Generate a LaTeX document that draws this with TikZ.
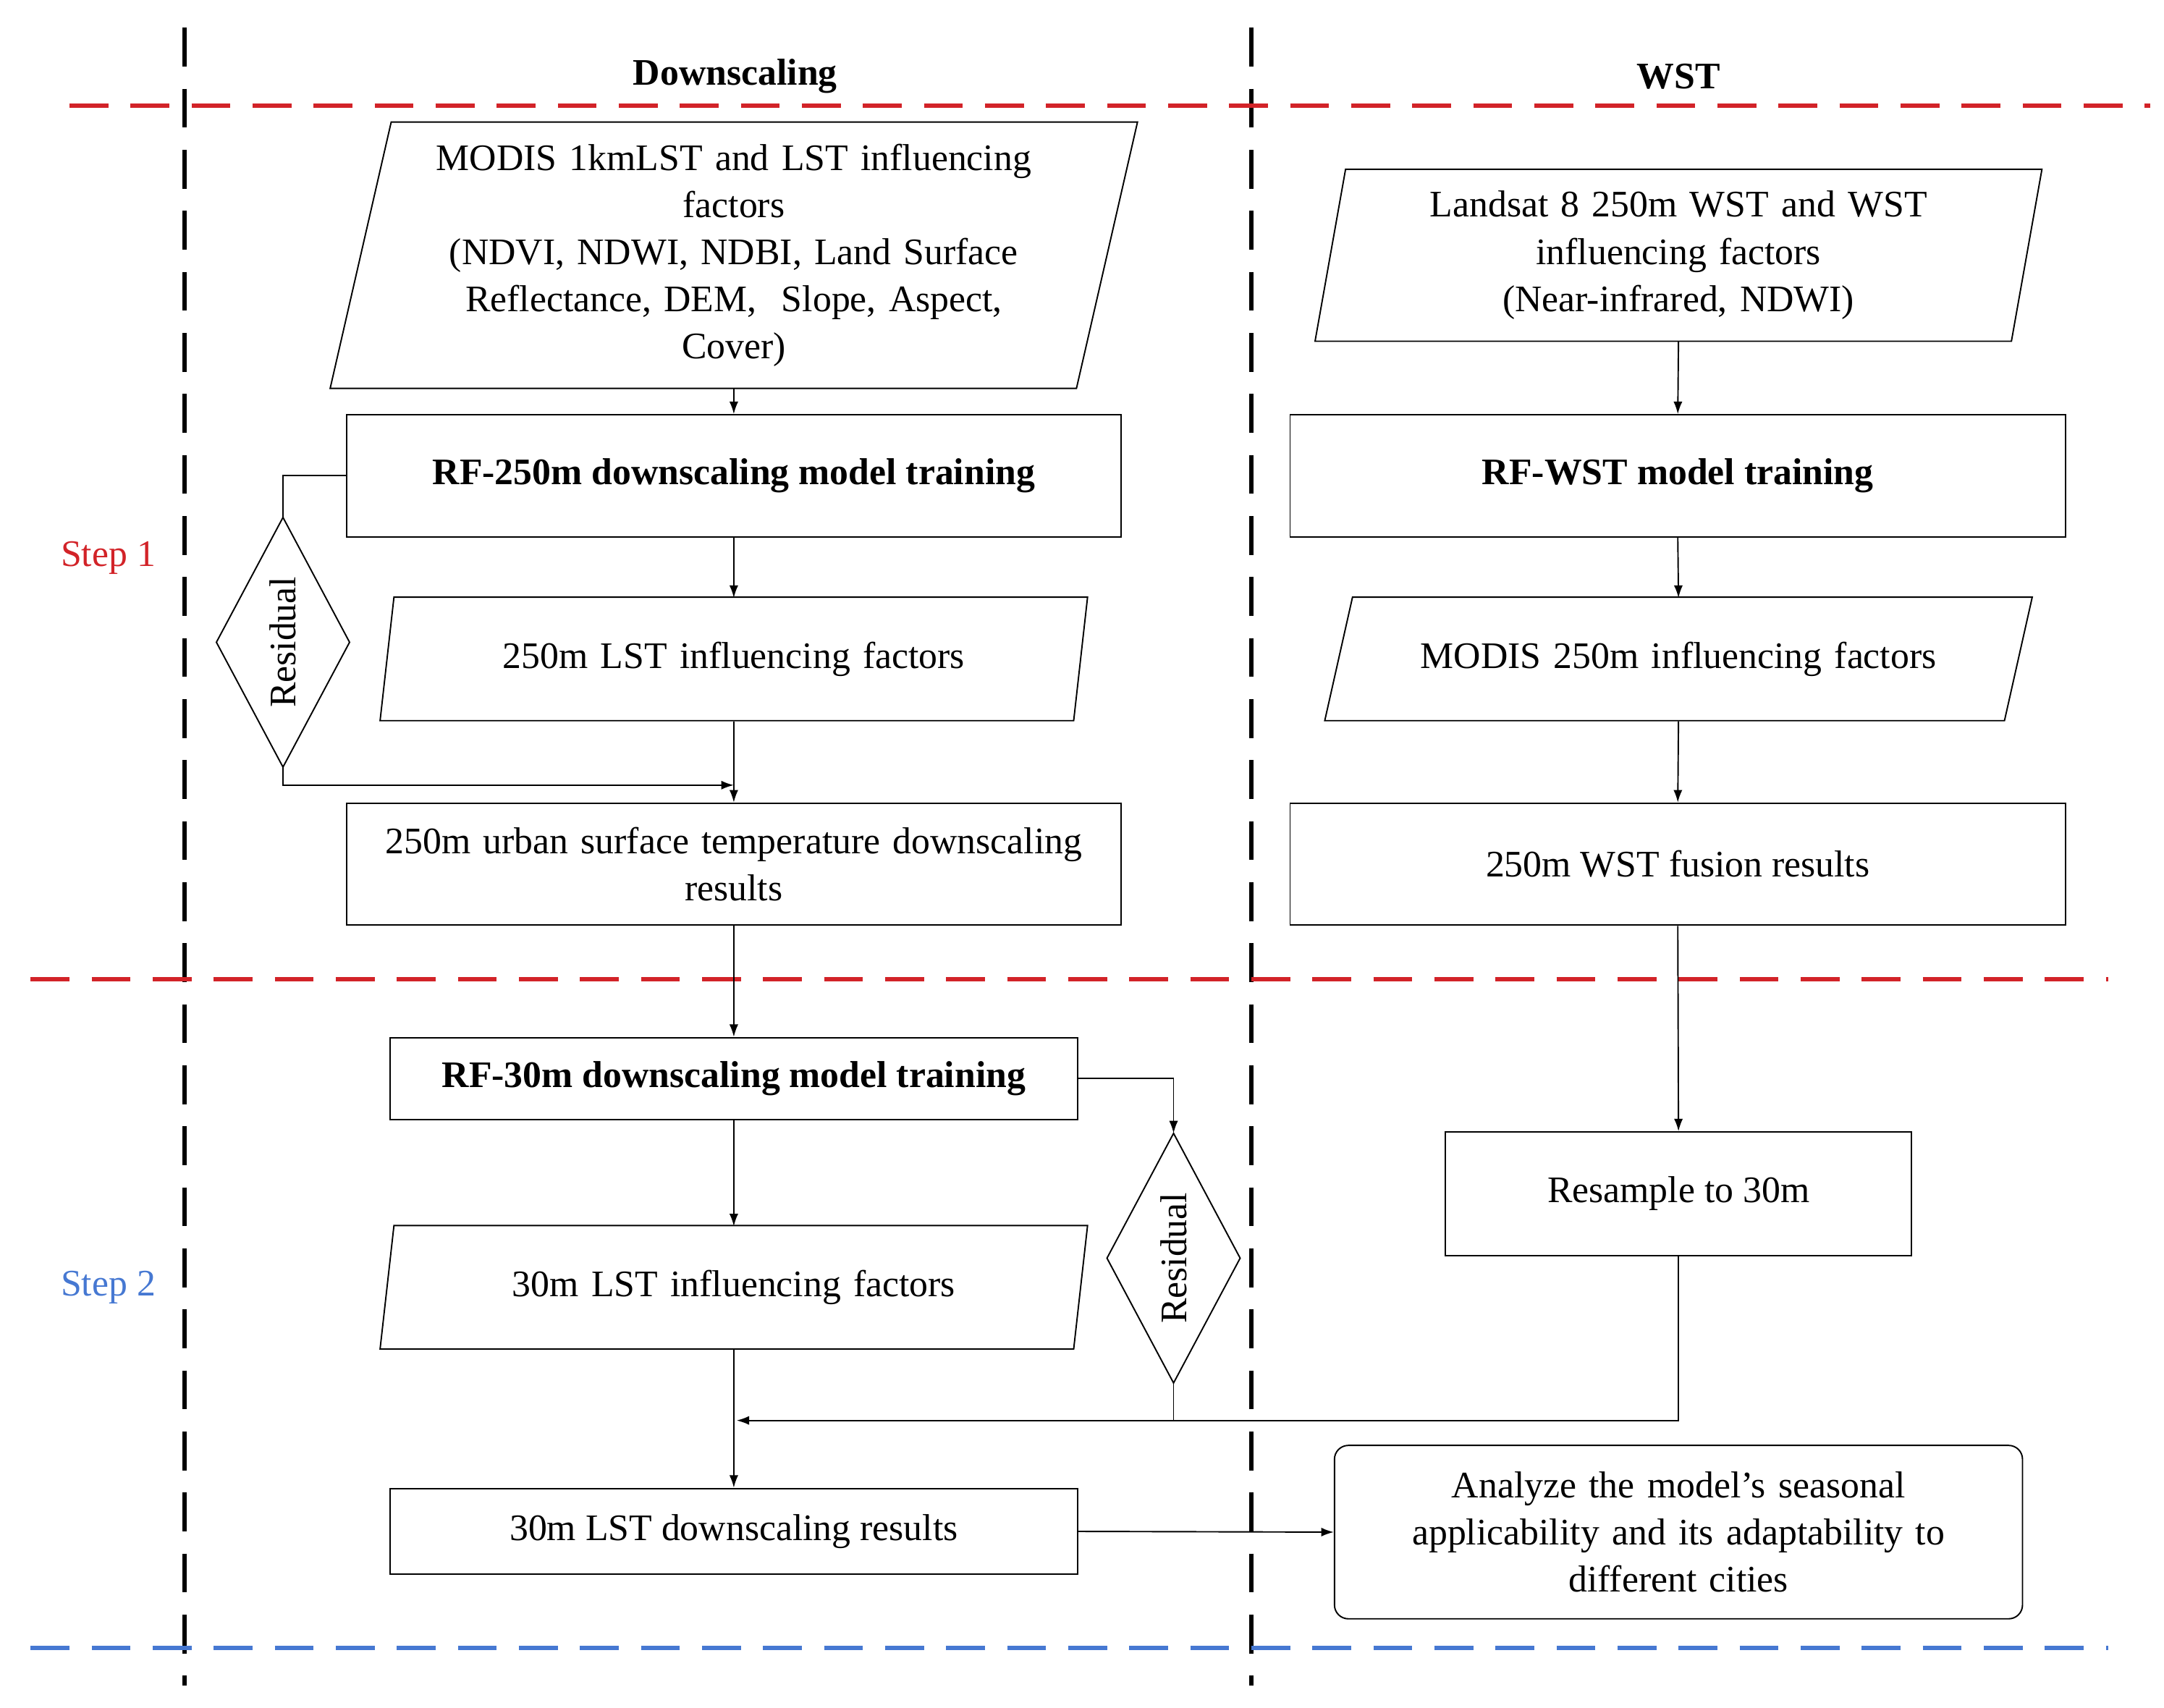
\documentclass[tikz,border=0pt]{standalone}
\usepackage{fontspec}
\setmainfont{Liberation Serif}
\usetikzlibrary{arrows.meta,calc}
\definecolor{dred}{RGB}{210,35,40}
\definecolor{dblue}{RGB}{70,120,210}
\begin{document}
\hyphenpenalty=10000 \exhyphenpenalty=10000
\begin{tikzpicture}[x=0.5pt,y=-0.5pt,
  box/.style={draw,line width=0.5pt,align=center,inner sep=0pt,font=\fontsize{13.5}{17}\selectfont},
  bx/.style={box,font=\fontsize{13.5}{17}\selectfont\bfseries},
  ar/.style={line width=0.5pt,-{Latex[length=4.5pt,width=3.2pt]}},
  ln/.style={line width=0.5pt},
  sep/.style={line width=1.6pt,dash pattern=on 14pt off 8pt},
  lbl/.style={font=\fontsize{13.5}{17}\selectfont}]
\useasboundingbox (0,0) rectangle (1560,1231);
% separators
\draw[sep] (133,20) -- (133,1215);
\draw[sep] (902,20) -- (902,1215);
\draw[sep,dred] (50,76) -- (1550,76);
\draw[sep,dred] (22,706) -- (1520,706);
\draw[sep,dblue] (22,1188) -- (1520,1188);
\node[lbl,font=\fontsize{13.5}{17}\selectfont\bfseries] (h1) at (530,55) {Downscaling};
\node[lbl,font=\fontsize{13.5}{17}\selectfont\bfseries] (h2) at (1210,55) {WST};
\node[lbl,text=dred] (s1) at (78,402) {Step 1};
\node[lbl,text=dblue] (s2) at (78,928) {Step 2};
% parallelograms: name, cx, cy, halfwidth, halfheight, halfslant, text width(pt), text
\newcommand{\pgram}[8]{%
  \node[box,draw=none,minimum width=#4pt,minimum height=#5pt,text width=#7pt] (#1) at (#2,#3) {#8};
  \draw[ln] ($(#2,#3)+(-#4+#6,-#5)$) -- ($(#2,#3)+(#4+#6,-#5)$) -- ($(#2,#3)+(#4-#6,#5)$) -- ($(#2,#3)+(-#4-#6,#5)$) -- cycle;}
\pgram{p1}{529}{184}{269}{96}{22}{250}{MODIS 1kmLST and LST influencing\\factors\\(NDVI, NDWI, NDBI, Land Surface\\Reflectance, DEM,\ \ Slope, Aspect,\\Cover)}
\pgram{p2}{529}{475}{250}{44.5}{5}{240}{250m LST influencing factors}
\pgram{p3}{529}{928}{250}{44.5}{5}{240}{30m LST influencing factors}
\pgram{p4}{1210}{184}{251}{62}{11}{240}{Landsat 8 250m WST and WST\\influencing factors\\(Near-infrared, NDWI)}
\pgram{p5}{1210}{475}{245}{44.5}{10}{240}{MODIS 250m influencing factors}
% rectangles
\node[bx,minimum width=279pt,minimum height=44pt] (r1) at (529,343) {RF-250m downscaling model training};
\node[box,minimum width=279pt,minimum height=44pt,text width=278pt] (r2) at (529,623) {250m urban surface temperature downscaling\\results};
\node[bx,minimum width=248pt,minimum height=29.5pt] (r3) at (529,777.5) {RF-30m downscaling model training};
\node[box,minimum width=248pt,minimum height=31pt] (r4) at (529,1104) {30m LST downscaling results};
\node[bx,minimum width=279.5pt,minimum height=44pt] (w1) at (1209.5,343) {RF-WST model training};
\node[box,minimum width=279.5pt,minimum height=44pt] (w2) at (1209.5,623) {250m WST fusion results};
\node[box,minimum width=168pt,minimum height=44.5pt] (w3) at (1210,860.5) {Resample to 30m};
\node[box,rounded corners=5pt,minimum width=248pt,minimum height=62.5pt,text width=245pt] (an) at (1210,1104.5) {Analyze the model's seasonal\\applicability and its adaptability to\\different cities};
% diamonds
\draw[ln] (204,373) -- (252,463) -- (204,553) -- (156,463) -- cycle;
\node[lbl,rotate=90] (d1) at (204,463) {Residual};
\coordinate (d1t) at (204,373); \coordinate (d1b) at (204,553);
\draw[ln] (846,817) -- (894,907) -- (846,997) -- (798,907) -- cycle;
\node[lbl,rotate=90] (d2) at (846,907) {Residual};
\coordinate (d2t) at (846,817); \coordinate (d2b) at (846,997);
% connectors
\draw[ar] (529,280) -- (r1.north);
\draw[ar] (r1.south) -- (529,431);
\draw[ar] (529,520) -- (r2.north);
\draw[ln] (r1.west) -| (d1t);
\draw[ar] (d1b) |- (529,566);
\draw[ar] (r2.south) -- (r3.north);
\draw[ar] (r3.south) -- (529,884);
\draw[ar] (529,973) -- (r4.north);
\draw[ar] (r3.east) -| (d2t);
\draw[ln] (d2b) -- (846,1024);
\draw[ar] (w3.south) |- (531,1024);
\draw[ar] (r4.east) -- (an.west);
\draw[ar] (1210,246) -- (w1.north);
\draw[ar] (w1.south) -- (1210,431);
\draw[ar] (1210,520) -- (w2.north);
\draw[ar] (w2.south) -- (w3.north);
\end{tikzpicture}
\end{document}
